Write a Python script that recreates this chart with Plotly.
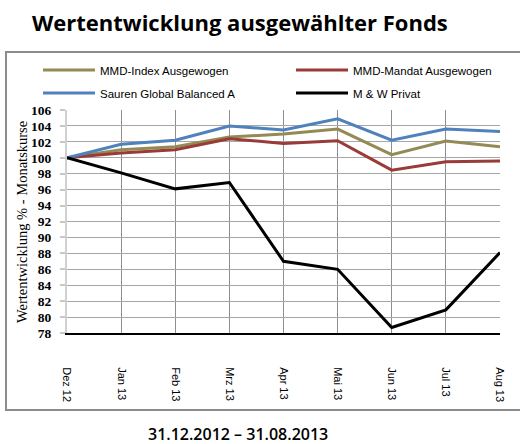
import plotly.graph_objects as go

categories = ["Dez 12", "Jan 13", "Feb 13", "Mrz 13", "Apr 13", "Mai 13", "Jun 13", "Jul 13", "Aug 13"]
mmd_index = [100, 101.0, 101.4, 102.6, 103.0, 103.6, 100.4, 102.1, 101.4]
mmd_mandat = [100, 100.6, 101.0, 102.4, 101.8, 102.15, 98.45, 99.5, 99.6]
sauren = [100, 101.7, 102.2, 104.0, 103.5, 104.9, 102.2, 103.6, 103.3]
mw_privat = [100, 98.1, 96.1, 96.9, 87.0, 86.0, 78.7, 80.9, 88.1]
y_ticks = list(range(78, 107, 2))

series = [
    ("MMD-Index Ausgewogen", mmd_index, "#948A54", "legend"),
    ("MMD-Mandat Ausgewogen", mmd_mandat, "#993B38", "legend2"),
    ("Sauren Global Balanced A", sauren, "#4F81BD", "legend3"),
    ("M & W Privat", mw_privat, "#000000", "legend4"),
]

W, H = 520, 444
L, R, T, B = 67, 20, 110, 111
pw, ph = W - L - R, H - T - B

def px(x):
    return (x - L) / pw

def py(y):
    return (H - B - y) / ph

fig = go.Figure()
x_idx = list(range(len(categories)))
for name, vals, col, lg in series:
    fig.add_trace(go.Scatter(x=x_idx, y=vals, mode="lines", name=name,
                             line=dict(color=col, width=3), legend=lg))

leg_font = dict(family="Liberation Sans, Arial, sans-serif", size=11.5, color="#000")
legpos = {"legend": (38, 70), "legend2": (291, 70), "legend3": (38, 93), "legend4": (291, 93)}
leg_layout = {}
for k, (lx, ly) in legpos.items():
    leg_layout[k] = dict(x=px(lx), y=py(ly), xanchor="left", yanchor="middle",
                         bgcolor="rgba(0,0,0,0)", font=leg_font, itemwidth=52,
                         orientation="v")

fig.update_layout(
    width=W, height=H,
    margin=dict(l=L, r=R, t=T, b=B, autoexpand=False),
    paper_bgcolor="white", plot_bgcolor="white",
    showlegend=True,
    **leg_layout,
    xaxis=dict(range=[0, 8], tickmode="array", tickvals=x_idx, ticktext=categories,
               tickangle=90, showgrid=True, gridcolor="#8E8E8E", gridwidth=1.3,
               showline=True, linecolor="#000", linewidth=2, ticks="",
               ticklabelstandoff=30, automargin=False,
               tickfont=dict(family="Liberation Sans, Arial, sans-serif", size=11, color="#000"),
               zeroline=False),
    yaxis=dict(range=[78, 106], tickmode="array", tickvals=y_ticks,
               showgrid=True, gridcolor="#A6A6A6", gridwidth=1.3,
               showline=True, linecolor="#D0D0D0", linewidth=2,
               ticks="outside", ticklen=5, tickcolor="#C8C8C8", tickwidth=2,
               ticklabelstandoff=6, automargin=False,
               tickfont=dict(family="Liberation Serif, DejaVu Serif, serif", size=13.5,
                             color="#000", weight="bold"),
               zeroline=False),
    shapes=[dict(type="rect", xref="paper", yref="paper",
                 x0=px(6), x1=px(523), y0=py(410), y1=py(52),
                 line=dict(color="#8C8C8C", width=2), fillcolor="rgba(0,0,0,0)", layer="below")],
    annotations=[
        dict(text="Wertentwicklung ausgewählter Fonds", xref="paper", yref="paper",
             x=px(30), y=py(22), xanchor="left", yanchor="middle", showarrow=False,
             font=dict(family="Open Sans, Noto Sans, sans-serif", size=22, color="#000", weight=700)),
        dict(text="31.12.2012 – 31.08.2013", xref="paper", yref="paper",
             x=px(238), y=py(434), xanchor="center", yanchor="middle", showarrow=False,
             font=dict(family="Open Sans, Noto Sans, sans-serif", size=16, color="#000", weight=600)),
        dict(text="Wertentwicklung % - Monatskurse", xref="paper", yref="paper",
             x=px(22), y=py(222), xanchor="center", yanchor="middle", showarrow=False,
             textangle=-90,
             font=dict(family="Liberation Serif, DejaVu Serif, serif", size=14.5, color="#000")),
    ],
)

fig.write_html("out.html", config={"displayModeBar": False},
               post_script="document.body.style.margin='0';document.body.style.padding='0';")
